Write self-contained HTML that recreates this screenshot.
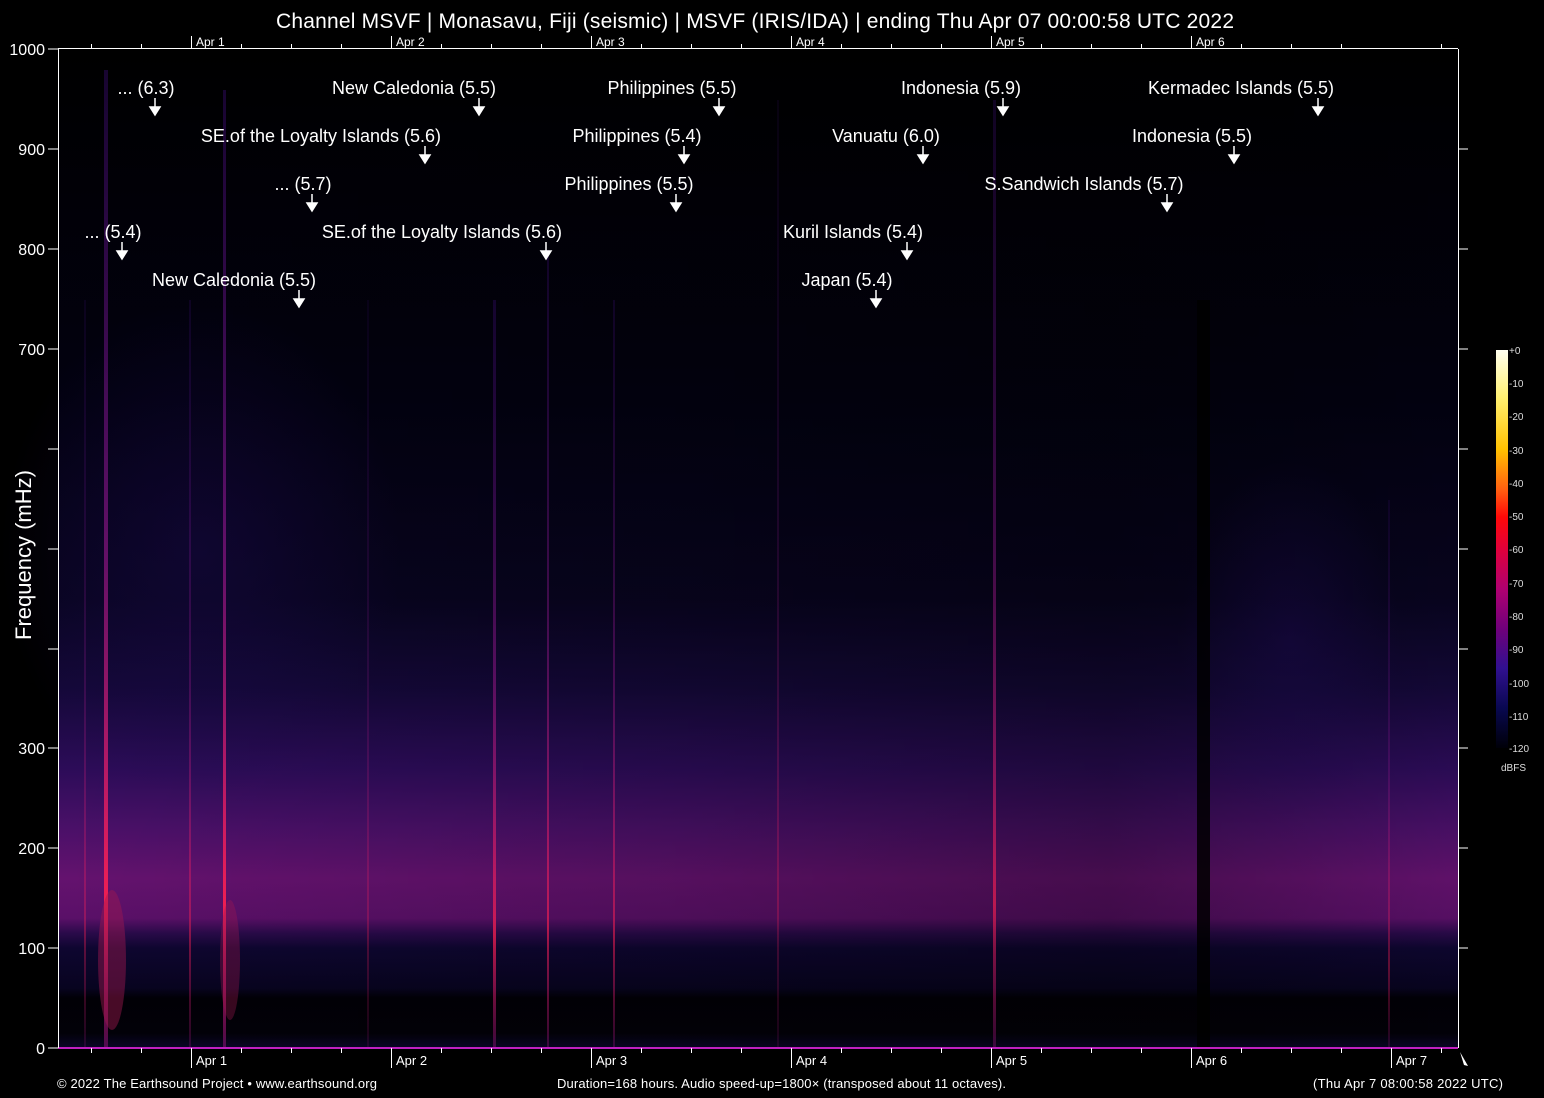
<!DOCTYPE html>
<html><head><meta charset="utf-8"><style>
html,body{margin:0;padding:0;background:#000;}
svg{display:block;font-family:"Liberation Sans",sans-serif;}
</style></head><body>
<svg width="1544" height="1098" viewBox="0 0 1544 1098" xmlns="http://www.w3.org/2000/svg">
<defs>
<linearGradient id="bg" x1="0" y1="0" x2="0" y2="1" gradientUnits="objectBoundingBox">
<stop offset="0" stop-color="#000"/>
<stop offset="0.35" stop-color="#020110"/>
<stop offset="0.55" stop-color="#08041f"/>
<stop offset="0.64" stop-color="#140838"/>
<stop offset="0.72" stop-color="#2c0c58"/>
<stop offset="0.78" stop-color="#4a1068"/>
<stop offset="0.83" stop-color="#64126e"/>
<stop offset="0.87" stop-color="#5a1068"/>
<stop offset="0.885" stop-color="#2a0a4a"/>
<stop offset="0.90" stop-color="#0e0630"/>
<stop offset="0.94" stop-color="#080420"/>
<stop offset="0.95" stop-color="#010006"/>
<stop offset="0.985" stop-color="#020108"/>
<stop offset="1" stop-color="#0a0528"/>
</linearGradient>
<linearGradient id="hz" x1="0" y1="0" x2="1" y2="0">
<stop offset="0" stop-color="#000" stop-opacity="0"/>
<stop offset="0.45" stop-color="#000" stop-opacity="0.15"/>
<stop offset="0.75" stop-color="#000" stop-opacity="0.3"/>
<stop offset="1" stop-color="#000" stop-opacity="0.05"/>
</linearGradient>
<radialGradient id="haze" cx="0.5" cy="0.5" r="0.5">
<stop offset="0" stop-color="#1c0a50" stop-opacity="0.4"/>
<stop offset="1" stop-color="#1c0a50" stop-opacity="0"/>
</radialGradient>
<linearGradient id="cb" x1="0" y1="0" x2="0" y2="1">
<stop offset="0" stop-color="#fffff0"/>
<stop offset="0.12" stop-color="#fff070"/>
<stop offset="0.25" stop-color="#ffc000"/>
<stop offset="0.35" stop-color="#ff6010"/>
<stop offset="0.42" stop-color="#ff0808"/>
<stop offset="0.5" stop-color="#e0003a"/>
<stop offset="0.6" stop-color="#b00070"/>
<stop offset="0.7" stop-color="#70007a"/>
<stop offset="0.8" stop-color="#301090"/>
<stop offset="0.9" stop-color="#080850"/>
<stop offset="1" stop-color="#000008"/>
</linearGradient>
<linearGradient id="ql" x1="0" y1="0" x2="0" y2="1">
<stop offset="0" stop-color="#5010a0" stop-opacity="0.3"/>
<stop offset="0.5" stop-color="#a01890" stop-opacity="0.6"/>
<stop offset="0.85" stop-color="#ff2050" stop-opacity="0.9"/>
<stop offset="1" stop-color="#801070" stop-opacity="0.6"/>
</linearGradient>
</defs>
<rect width="1544" height="1098" fill="#000"/>
<rect x="58" y="49" width="1400" height="999" fill="url(#bg)"/>
<rect x="58" y="49" width="1400" height="999" fill="url(#hz)"/>
<ellipse cx="200" cy="550" rx="200" ry="250" fill="url(#haze)"/>
<ellipse cx="1290" cy="640" rx="110" ry="180" fill="url(#haze)"/>
<g fill="url(#ql)">
<rect x="104" y="70" width="4" height="978"/>
<rect x="223" y="90" width="3" height="958"/>
<rect x="493" y="300" width="3" height="748" opacity="0.8"/>
<rect x="547" y="250" width="2" height="798" opacity="0.7"/>
<rect x="613" y="300" width="2" height="748" opacity="0.6"/>
<rect x="993" y="100" width="3" height="948" opacity="0.7"/>
<rect x="189" y="300" width="2" height="748" opacity="0.5"/>
<rect x="84" y="300" width="2" height="748" opacity="0.4"/>
<rect x="1388" y="500" width="2" height="548" opacity="0.4"/>
<rect x="367" y="300" width="2" height="748" opacity="0.3"/>
<rect x="777" y="100" width="2" height="948" opacity="0.3"/>
</g>
<ellipse cx="112" cy="960" rx="14" ry="70" fill="#a01850" opacity="0.45"/>
<ellipse cx="230" cy="960" rx="10" ry="60" fill="#a01850" opacity="0.35"/>
<rect x="1197" y="300" width="13" height="748" fill="#000" opacity="0.85"/>
<rect x="58" y="1047" width="1400" height="2" fill="#c020c0"/>
<g stroke="#fff" stroke-width="1" fill="none">
<line x1="58.5" y1="49" x2="58.5" y2="1048"/>
<line x1="1458.5" y1="49" x2="1458.5" y2="1048"/>
<line x1="58" y1="48.5" x2="1458" y2="48.5"/>
</g>
<g stroke="#fff">
<line x1="48" y1="49" x2="58" y2="49"/><line x1="48" y1="149" x2="58" y2="149"/><line x1="48" y1="249" x2="58" y2="249"/><line x1="48" y1="349" x2="58" y2="349"/><line x1="48" y1="449" x2="58" y2="449"/><line x1="48" y1="549" x2="58" y2="549"/><line x1="48" y1="649" x2="58" y2="649"/><line x1="48" y1="748" x2="58" y2="748"/><line x1="48" y1="848" x2="58" y2="848"/><line x1="48" y1="948" x2="58" y2="948"/><line x1="48" y1="1048" x2="58" y2="1048"/>
<line x1="1458" y1="149" x2="1468" y2="149"/><line x1="1458" y1="249" x2="1468" y2="249"/><line x1="1458" y1="349" x2="1468" y2="349"/><line x1="1458" y1="449" x2="1468" y2="449"/><line x1="1458" y1="549" x2="1468" y2="549"/><line x1="1458" y1="649" x2="1468" y2="649"/><line x1="1458" y1="748" x2="1468" y2="748"/><line x1="1458" y1="848" x2="1468" y2="848"/><line x1="1458" y1="948" x2="1468" y2="948"/>
</g>
<g stroke="#fff">
<line x1="91.5" y1="1048" x2="91.5" y2="1053"/><line x1="141.5" y1="1048" x2="141.5" y2="1053"/><line x1="191.5" y1="1048" x2="191.5" y2="1068"/><line x1="241.5" y1="1048" x2="241.5" y2="1053"/><line x1="291.5" y1="1048" x2="291.5" y2="1053"/><line x1="341.5" y1="1048" x2="341.5" y2="1053"/><line x1="391.5" y1="1048" x2="391.5" y2="1068"/><line x1="441.5" y1="1048" x2="441.5" y2="1053"/><line x1="491.5" y1="1048" x2="491.5" y2="1053"/><line x1="541.5" y1="1048" x2="541.5" y2="1053"/><line x1="591.5" y1="1048" x2="591.5" y2="1068"/><line x1="641.5" y1="1048" x2="641.5" y2="1053"/><line x1="691.5" y1="1048" x2="691.5" y2="1053"/><line x1="741.5" y1="1048" x2="741.5" y2="1053"/><line x1="791.5" y1="1048" x2="791.5" y2="1068"/><line x1="841.5" y1="1048" x2="841.5" y2="1053"/><line x1="891.5" y1="1048" x2="891.5" y2="1053"/><line x1="941.5" y1="1048" x2="941.5" y2="1053"/><line x1="991.5" y1="1048" x2="991.5" y2="1068"/><line x1="1041.5" y1="1048" x2="1041.5" y2="1053"/><line x1="1091.5" y1="1048" x2="1091.5" y2="1053"/><line x1="1141.5" y1="1048" x2="1141.5" y2="1053"/><line x1="1191.5" y1="1048" x2="1191.5" y2="1068"/><line x1="1241.5" y1="1048" x2="1241.5" y2="1053"/><line x1="1291.5" y1="1048" x2="1291.5" y2="1053"/><line x1="1341.5" y1="1048" x2="1341.5" y2="1053"/><line x1="1391.5" y1="1048" x2="1391.5" y2="1068"/><line x1="1441.5" y1="1048" x2="1441.5" y2="1053"/>
<line x1="91.5" y1="44" x2="91.5" y2="49"/><line x1="141.5" y1="44" x2="141.5" y2="49"/><line x1="191.5" y1="36" x2="191.5" y2="49"/><line x1="241.5" y1="44" x2="241.5" y2="49"/><line x1="291.5" y1="44" x2="291.5" y2="49"/><line x1="341.5" y1="44" x2="341.5" y2="49"/><line x1="391.5" y1="36" x2="391.5" y2="49"/><line x1="441.5" y1="44" x2="441.5" y2="49"/><line x1="491.5" y1="44" x2="491.5" y2="49"/><line x1="541.5" y1="44" x2="541.5" y2="49"/><line x1="591.5" y1="36" x2="591.5" y2="49"/><line x1="641.5" y1="44" x2="641.5" y2="49"/><line x1="691.5" y1="44" x2="691.5" y2="49"/><line x1="741.5" y1="44" x2="741.5" y2="49"/><line x1="791.5" y1="36" x2="791.5" y2="49"/><line x1="841.5" y1="44" x2="841.5" y2="49"/><line x1="891.5" y1="44" x2="891.5" y2="49"/><line x1="941.5" y1="44" x2="941.5" y2="49"/><line x1="991.5" y1="36" x2="991.5" y2="49"/><line x1="1041.5" y1="44" x2="1041.5" y2="49"/><line x1="1091.5" y1="44" x2="1091.5" y2="49"/><line x1="1141.5" y1="44" x2="1141.5" y2="49"/><line x1="1191.5" y1="36" x2="1191.5" y2="49"/><line x1="1241.5" y1="44" x2="1241.5" y2="49"/><line x1="1291.5" y1="44" x2="1291.5" y2="49"/><line x1="1341.5" y1="44" x2="1341.5" y2="49"/><line x1="1441.5" y1="44" x2="1441.5" y2="49"/>
</g>
<g fill="#fff" font-size="16" text-anchor="end">
<text x="45" y="55">1000</text><text x="45" y="155">900</text><text x="45" y="255">800</text><text x="45" y="355">700</text><text x="45" y="754">300</text><text x="45" y="854">200</text><text x="45" y="954">100</text><text x="45" y="1054">0</text>
</g>
<text transform="translate(31,555) rotate(-90)" fill="#fff" font-size="22" text-anchor="middle">Frequency (mHz)</text>
<g fill="#fff" font-size="13">
<text x="196" y="1065">Apr  1</text><text x="396" y="1065">Apr  2</text><text x="596" y="1065">Apr  3</text><text x="796" y="1065">Apr  4</text><text x="996" y="1065">Apr  5</text><text x="1196" y="1065">Apr  6</text><text x="1396" y="1065">Apr  7</text>
<text x="196" y="46" font-size="12">Apr  1</text><text x="396" y="46" font-size="12">Apr  2</text><text x="596" y="46" font-size="12">Apr  3</text><text x="796" y="46" font-size="12">Apr  4</text><text x="996" y="46" font-size="12">Apr  5</text><text x="1196" y="46" font-size="12">Apr  6</text>
</g>
<text x="755" y="28" fill="#fff" font-size="21" text-anchor="middle" textLength="958">Channel MSVF | Monasavu, Fiji (seismic) | MSVF (IRIS/IDA) | ending Thu Apr 07 00:00:58 UTC 2022</text>
<g fill="#fff" font-size="13">
<text x="57" y="1088" textLength="320">© 2022 The Earthsound Project • www.earthsound.org</text>
<text x="557" y="1088" textLength="449">Duration=168 hours. Audio speed-up=1800× (transposed about 11 octaves).</text>
<text x="1313" y="1088" textLength="190">(Thu Apr  7 08:00:58 2022 UTC)</text>
</g>
<rect x="1496" y="350" width="12" height="398" fill="url(#cb)"/>
<g fill="#ddd" font-size="10">
<text x="1509" y="354">+0</text><text x="1509" y="387">-10</text><text x="1509" y="420">-20</text><text x="1509" y="454">-30</text><text x="1509" y="487">-40</text><text x="1509" y="520">-50</text><text x="1509" y="553">-60</text><text x="1509" y="587">-70</text><text x="1509" y="620">-80</text><text x="1509" y="653">-90</text><text x="1509" y="687">-100</text><text x="1509" y="720">-110</text><text x="1509" y="752">-120</text>
<text x="1501" y="771">dBFS</text>
</g>
<g fill="#fff" font-size="18" text-anchor="middle">
<text x="146" y="94">... (6.3)</text>
<text x="414" y="94">New Caledonia (5.5)</text>
<text x="672" y="94">Philippines (5.5)</text>
<text x="961" y="94">Indonesia (5.9)</text>
<text x="1241" y="94">Kermadec Islands (5.5)</text>
<text x="321" y="142">SE.of the Loyalty Islands (5.6)</text>
<text x="637" y="142">Philippines (5.4)</text>
<text x="886" y="142">Vanuatu (6.0)</text>
<text x="1192" y="142">Indonesia (5.5)</text>
<text x="303" y="190">... (5.7)</text>
<text x="629" y="190">Philippines (5.5)</text>
<text x="1084" y="190">S.Sandwich Islands (5.7)</text>
<text x="113" y="238">... (5.4)</text>
<text x="442" y="238">SE.of the Loyalty Islands (5.6)</text>
<text x="853" y="238">Kuril Islands (5.4)</text>
<text x="234" y="286">New Caledonia (5.5)</text>
<text x="847" y="286">Japan (5.4)</text>
</g>
<g stroke="#fff" stroke-width="1.5" fill="#fff">
<path d="M155 98v10"/><path d="M150 107h10l-5 8z"/>
<path d="M479 98v10"/><path d="M474 107h10l-5 8z"/>
<path d="M719 98v10"/><path d="M714 107h10l-5 8z"/>
<path d="M1003 98v10"/><path d="M998 107h10l-5 8z"/>
<path d="M1318 98v10"/><path d="M1313 107h10l-5 8z"/>
<path d="M425 146v10"/><path d="M420 155h10l-5 8z"/>
<path d="M684 146v10"/><path d="M679 155h10l-5 8z"/>
<path d="M923 146v10"/><path d="M918 155h10l-5 8z"/>
<path d="M1234 146v10"/><path d="M1229 155h10l-5 8z"/>
<path d="M312 194v10"/><path d="M307 203h10l-5 8z"/>
<path d="M676 194v10"/><path d="M671 203h10l-5 8z"/>
<path d="M1167 194v10"/><path d="M1162 203h10l-5 8z"/>
<path d="M122 242v10"/><path d="M117 251h10l-5 8z"/>
<path d="M546 242v10"/><path d="M541 251h10l-5 8z"/>
<path d="M907 242v10"/><path d="M902 251h10l-5 8z"/>
<path d="M299 290v10"/><path d="M294 299h10l-5 8z"/>
<path d="M876 290v10"/><path d="M871 299h10l-5 8z"/>
</g>
<path d="M1460 1052l8 14l-4 -1z" fill="#fff"/>
</svg>
</body></html>
